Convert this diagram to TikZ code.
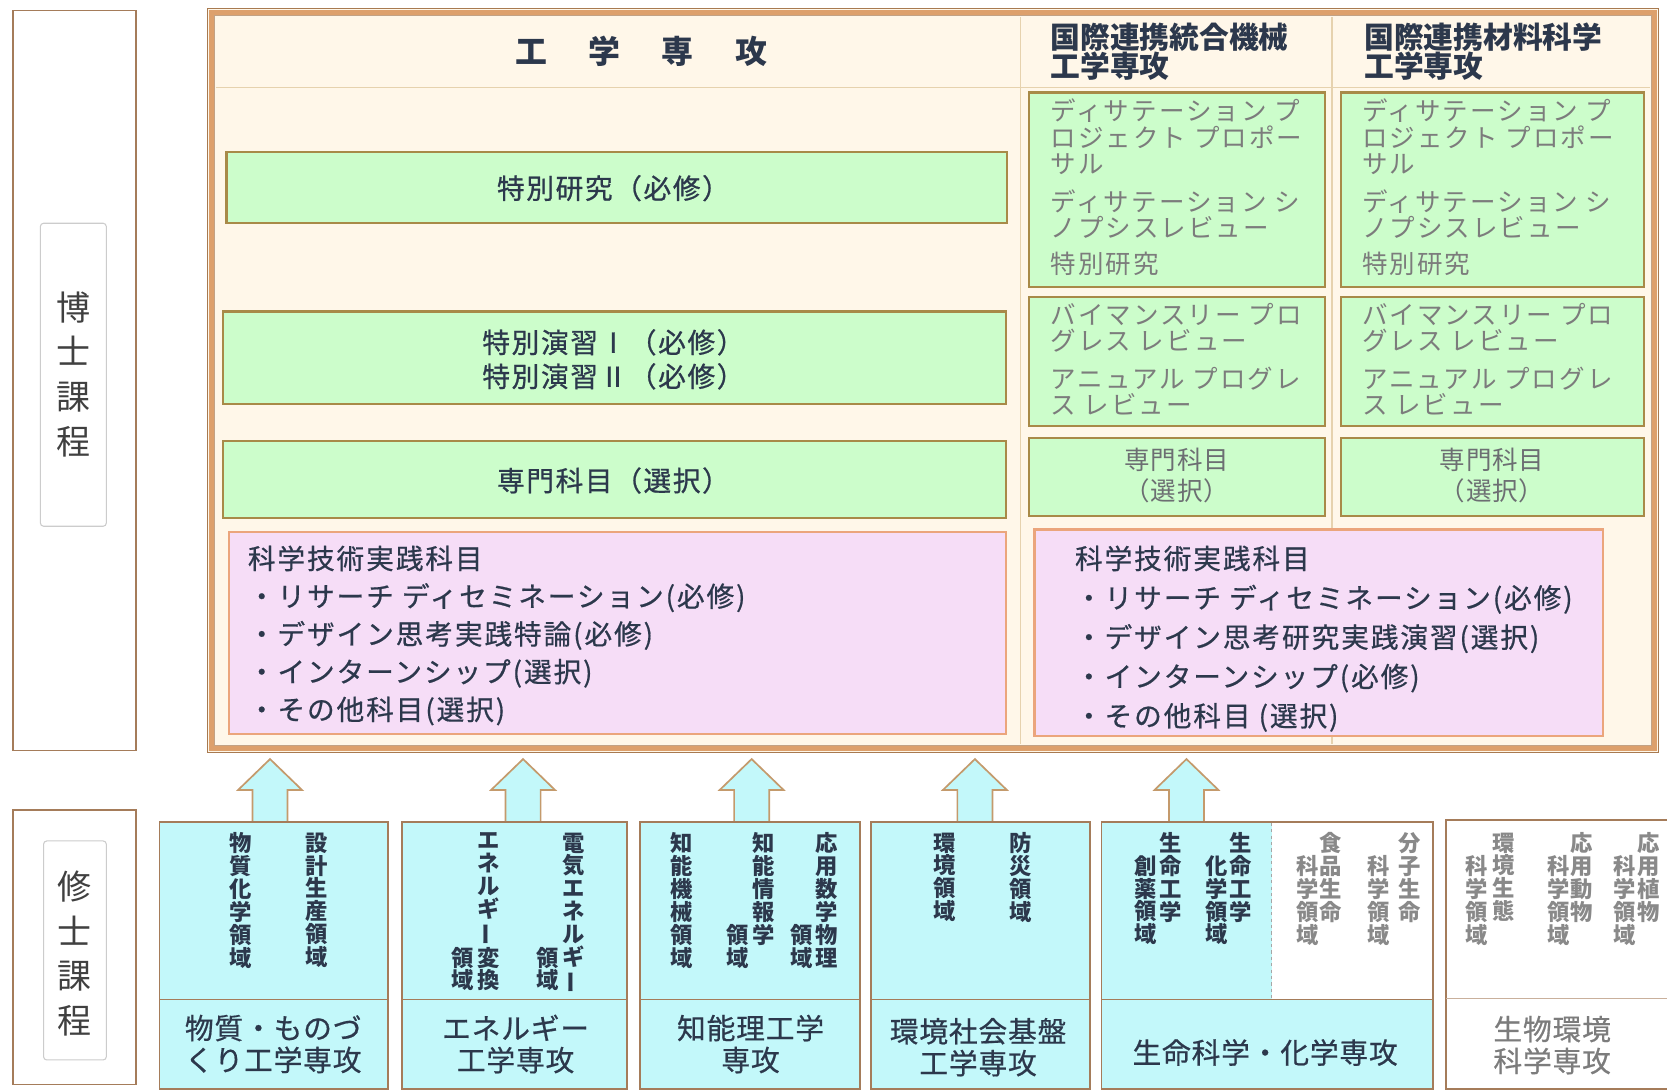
\documentclass[tikz,border=0pt]{standalone}
\usepackage{fontspec}
\setmainfont{Noto Sans CJK JP}
\usepackage{tikz}
\usetikzlibrary{positioning}

\definecolor{frameband}{HTML}{DDA06C}
\definecolor{frameedge}{HTML}{A87A50}
\definecolor{cream}{HTML}{FFF7E9}
\definecolor{divline}{HTML}{E6D2AE}
\definecolor{greenfill}{HTML}{CCFDCB}
\definecolor{greenedge}{HTML}{A88A48}
\definecolor{pinkfill}{HTML}{F6DDF7}
\definecolor{pinkedge}{HTML}{EBA57C}
\definecolor{cyanfill}{HTML}{C3F8FA}
\definecolor{boxedge}{HTML}{A57C5A}
\definecolor{inktext}{HTML}{2C384C}
\definecolor{softtext}{HTML}{7C7C7C}
\definecolor{arrowedge}{HTML}{C49A6C}

% vertical long vowel mark
\newcommand{\tatebo}{\rotatebox[origin=c]{90}{ー}}

\begin{document}
\begin{tikzpicture}[x=1pt, y=-1pt,
    greenbox/.style={fill=greenfill, draw=greenedge, line width=2pt},
    pinkbox/.style={fill=pinkfill, draw=pinkedge, line width=2pt},
    sidebox/.style={fill=white, draw=boxedge, line width=1.6pt},
    tagbox/.style={fill=white, draw=black!20, line width=1pt, rounded corners=3pt},
    inktxt/.style={text=inktext, inner sep=0pt, font={\fontsize{26}{32}\selectfont\addfontfeatures{LetterSpace=6,FakeBold=0.8}}},
    softtxt/.style={text=softtext, inner sep=0pt, align=left, anchor=north west, font={\fontsize{24}{25}\selectfont\addfontfeatures{LetterSpace=8}}},
    listtxt/.style={text=inktext, inner sep=0pt, align=left, anchor=north west, font={\fontsize{26}{35.5}\selectfont\addfontfeatures{LetterSpace=7,FakeBold=0.6}}},
    vtxt/.style={text=inktext, inner sep=0pt, align=center, anchor=north, font={\bfseries\fontsize{21}{21.5}\selectfont}},
    vsoft/.style={vtxt, text=softtext!90},
    nametxt/.style={text=inktext, inner sep=0pt, align=center, font={\fontsize{27}{30}\selectfont\addfontfeatures{LetterSpace=3,FakeBold=0.6}}},
    tagtxt/.style={text=black!75, inner sep=0pt, align=center, anchor=north, font={\fontsize{32}{42}\selectfont}},
    upblock/.pic={
      \fill[cyanfill] (-16.5,0) -- (-16.5,-30) -- (-30,-30) -- (0,-59) -- (30,-30) -- (16.5,-30) -- (16.5,0) -- cycle;
      \draw[arrowedge, line width=1.6pt] (-16.5,0) -- (-16.5,-30) -- (-30,-30) -- (0,-59) -- (30,-30) -- (16.5,-30) -- (16.5,0);
    }]
  \useasboundingbox (0,0) rectangle (1568,1026);
  \fill[white] (0,0) rectangle (1568,1026);

  % doctoral label
  \draw[sidebox] (12,10) rectangle (128,706);
  \draw[tagbox] (38,210) rectangle (100,495);
  \node[tagtxt] (hakase) at (69,274) {博\\士\\課\\程};
  % master label
  \draw[sidebox] (12,762) rectangle (128,1020);
  \draw[tagbox] (41,791) rectangle (100,997);
  \node[tagtxt] (shushi) at (70,819) {修\\士\\課\\程};

  % main frame
  \fill[cream] (195,8) rectangle (1560,708);
  \draw[frameband, line width=5pt] (199,12) rectangle (1556,704);
  \draw[frameedge, line width=1.2pt] (195,8) rectangle (1560,708);
  \draw[frameedge!70, line width=1pt] (202,15) rectangle (1553,701);
  \draw[divline, line width=1.2pt] (203,82) -- (1552,82);
  \draw[divline, line width=1.2pt] (960,16) -- (960,700);
  \draw[divline, line width=1.2pt] (1253,16) -- (1253,700);

  % headers
  \node[inktxt, font={\bfseries\fontsize{30}{34}\selectfont}] (kogaku) at (603,48) {工\hspace{1.3em}学\hspace{1.3em}専\hspace{1.3em}攻};
  \node[inktxt, align=left, anchor=north west, font={\bfseries\fontsize{28}{28}\selectfont}] (intlmech) at (988,21) {国際連携統合機械\\工学専攻};
  \node[inktxt, align=left, anchor=north west, font={\bfseries\fontsize{28}{28}\selectfont}] (intlmat) at (1283,21) {国際連携材料科学\\工学専攻};

  % engineering courses
  \draw[greenbox] (213,143) rectangle (947,210);
  \node[inktxt] (tokken) at (577,177) {特別研究（必修）};
  \draw[greenbox] (210,293) rectangle (946,380);
  \node[inktxt, align=center] (tokuen) at (577,338) {特別演習Ⅰ（必修）\\特別演習Ⅱ（必修）};
  \draw[greenbox] (210,415) rectangle (946,487);
  \node[inktxt] (senmon) at (577,452) {専門科目（選択）};

  % international courses
  \foreach \xl/\xr/\id in {968/1246/mech, 1261/1546/mat} {
    \draw[greenbox] (\xl,87) rectangle (\xr,270);
    \node[softtxt] (dsp-\id) at (\xl+20,93) {ディサテーション プ\\ロジェクト プロポー\\サル\\[10pt]ディサテーション シ\\ノプシスレビュー\\[9pt]特別研究};
    \draw[greenbox] (\xl,279) rectangle (\xr,401);
    \node[softtxt] (bpr-\id) at (\xl+20,285) {バイマンスリー プロ\\グレス レビュー\\[10pt]アニュアル プログレ\\ス レビュー};
    \draw[greenbox] (\xl,412) rectangle (\xr,485);
    \node[softtxt, align=center, anchor=center, text=softtext!80!inktext, font={\fontsize{24}{29}\selectfont\addfontfeatures{LetterSpace=3}}] (sen-\id) at ({(\xl+\xr)/2},447) {専門科目\\（選択）};
  }

  % practice courses
  \draw[pinkbox] (215,500) rectangle (946,690);
  \node[listtxt] (jissenL) at (233,513) {科学技術実践科目\\・リサーチ ディセミネーション(必修)\\・デザイン思考実践特論(必修)\\・インターンシップ(選択)\\・その他科目(選択)};
  \draw[pinkbox] (973,498) rectangle (1508,692);
  \node[listtxt, font={\fontsize{26}{37}\selectfont\addfontfeatures{LetterSpace=7,FakeBold=0.6}}] (jissenR) at (1011,513) {科学技術実践科目\\・リサーチ ディセミネーション(必修)\\・デザイン思考研究実践演習(選択)\\・インターンシップ(必修)\\・その他科目 (選択)};

  % arrows
  \foreach \x in {254,492,707,917,1116}
    \pic at (\x,773) {upblock};

  % master programmes
  \foreach \xl/\xr in {150/365, 378/590, 602/809, 819/1025} {
    \draw[fill=cyanfill, draw=boxedge, line width=1.6pt] (\xl,773) rectangle (\xr,1024);
    \draw[boxedge, line width=1.2pt] (\xl,940) -- (\xr,940);
  }
  \fill[cyanfill] (1036,773) rectangle (1348,1024);
  \fill[white] (1196,773) rectangle (1348,940);
  \draw[boxedge, line width=1.6pt] (1036,773) rectangle (1348,1024);
  \draw[boxedge, line width=1.2pt] (1036,940) -- (1348,940);
  \draw[black!35, dashed] (1196,774) -- (1196,939);
  \draw[fill=white, draw=boxedge, line width=1.6pt] (1360,771) rectangle (1590,1024);
  \draw[boxedge!60, line width=1.2pt] (1360,939) -- (1590,939);

  % programme names
  \node[nametxt] (mononame) at (257,982) {物質・ものづ\\くり工学専攻};
  \node[nametxt] (enename) at (485,982) {エネルギー\\工学専攻};
  \node[nametxt] (chiname) at (706,982) {知能理工学\\専攻};
  \node[nametxt] (kanname) at (920,985) {環境社会基盤\\工学専攻};
  \node[nametxt] (seiname) at (1190,990) {生命科学・化学専攻};
  \node[nametxt, text=softtext] (bioname) at (1460,983) {生物環境\\科学専攻};

  % fields
  \node[vtxt] (busshitsu) at (226,783) {物\\質\\化\\学\\領\\域};
  \node[vtxt] (sekkei) at (298,783) {設\\計\\生\\産\\領\\域};
  \node[vtxt] (enehen) at (460,783) {エ\\ネ\\ル\\ギ\\\tatebo\\変\\換};
  \node[vtxt] (enehenb) at (435,890.5) {領\\域};
  \node[vtxt] (denki) at (540,783) {電\\気\\エ\\ネ\\ル\\ギ\\\tatebo};
  \node[vtxt] (denkib) at (515,890.5) {領\\域};
  \node[vtxt] (chikikai) at (641,783) {知\\能\\機\\械\\領\\域};
  \node[vtxt] (chijoho) at (718,783) {知\\能\\情\\報\\学};
  \node[vtxt] (chijohob) at (694,869) {領\\域};
  \node[vtxt] (oyosu) at (778,783) {応\\用\\数\\学\\物\\理};
  \node[vtxt] (oyosub) at (754,869) {領\\域};
  \node[vtxt] (kankyo) at (889,783) {環\\境\\領\\域};
  \node[vtxt] (bosai) at (960,783) {防\\災\\領\\域};
  \node[vtxt] (soyaku) at (1101,783) {生\\命\\工\\学};
  \node[vtxt] (soyakub) at (1078,804.5) {創\\薬\\領\\域};
  \node[vtxt] (kagaku) at (1167,783) {生\\命\\工\\学};
  \node[vtxt] (kagakub) at (1144,804.5) {化\\学\\領\\域};
  \node[vsoft] (shokuhin) at (1252,783) {食\\品\\生\\命};
  \node[vsoft] (shokuhinb) at (1230,804.5) {科\\学\\領\\域};
  \node[vsoft] (bunshi) at (1326,783) {分\\子\\生\\命};
  \node[vsoft] (bunshib) at (1297,804.5) {科\\学\\領\\域};
  \node[vsoft] (seitai) at (1414,783) {環\\境\\生\\態};
  \node[vsoft] (seitaib) at (1389,804.5) {科\\学\\領\\域};
  \node[vsoft] (dobutsu) at (1488,783) {応\\用\\動\\物};
  \node[vsoft] (dobutsub) at (1466,804.5) {科\\学\\領\\域};
  \node[vsoft] (shokubutsu) at (1551,783) {応\\用\\植\\物};
  \node[vsoft] (shokubutsub) at (1528,804.5) {科\\学\\領\\域};
\end{tikzpicture}
\end{document}
